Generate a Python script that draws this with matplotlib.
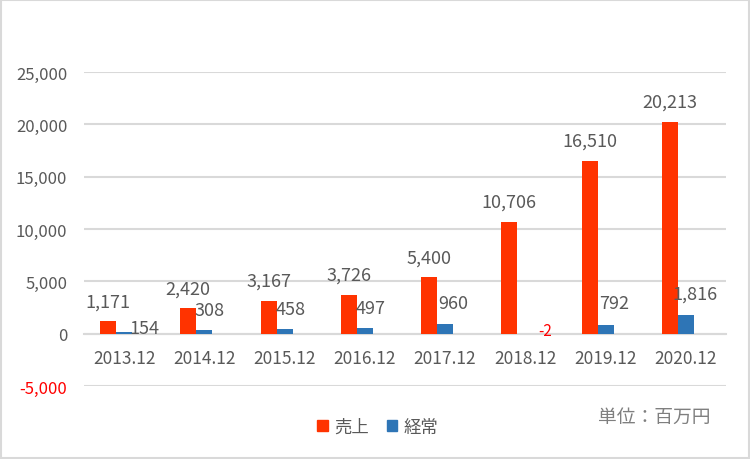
import numpy as np
import matplotlib.pyplot as plt
from matplotlib.patches import Rectangle, Patch

years = ["2013.12", "2014.12", "2015.12", "2016.12", "2017.12", "2018.12", "2019.12", "2020.12"]
sales = [1171, 2420, 3167, 3726, 5400, 10706, 16510, 20213]
ordinary = [154, 308, 458, 497, 960, -2, 792, 1816]
yticks = [-5000, 0, 5000, 10000, 15000, 20000, 25000]

RED = "#FF3300"
BLUE = "#2E75B6"
TXT = "#595959"
GRID = "#D9D9D9"

plt.rcParams['font.family'] = ['Noto Sans CJK JP', 'DejaVu Sans']

fig = plt.figure(figsize=(7.5, 4.6), dpi=100)
ax = fig.add_axes([0.112, 0.1587, 0.856, 0.6826])

x = np.arange(len(years))
w = 0.2
ax.bar(x - w, sales, w, color=RED, label="売上", zorder=3)
ax.bar(x, ordinary, w, color=BLUE, label="経常", zorder=3)

ax.set_xlim(-0.5, len(years) - 0.5)
ax.set_ylim(-5000, 25000)
ax.set_yticks(yticks)
ax.set_yticklabels([f"{v:,}" for v in yticks], fontsize=12, color=TXT)
ax.get_yticklabels()[0].set_color("#FF0000")
ax.grid(axis="y", color=GRID, linewidth=1.5, zorder=0)
ax.tick_params(axis="y", length=0, pad=12)

ax.spines['bottom'].set_position(('data', 0))
for s in ["top", "right", "left"]:
    ax.spines[s].set_visible(False)
ax.spines['bottom'].set_color(GRID)
ax.spines['bottom'].set_linewidth(1.5)
ax.set_xticks(x)
ax.set_xticklabels(years, fontsize=12.5, color=TXT)
ax.tick_params(axis="x", length=0, pad=11)

# data labels
for i, v in enumerate(sales):
    ax.annotate(f"{v:,}", (x[i] - w, v), xytext=(0, 20), textcoords="offset pixels",
                ha="center", va="center", fontsize=13, color=TXT)

blue_offsets = [(20, 4), (5, 20), (6, 20), (6, 20), (8, 21), (20, 3), (8, 22), (9, 21)]
for i, v in enumerate(ordinary):
    dx, dy = blue_offsets[i]
    if v < 0:
        ax.annotate(f"{v:,}", (x[i], 0), xytext=(dx, dy), textcoords="offset pixels",
                    ha="center", va="center", fontsize=11, color="#FF0000")
    else:
        ax.annotate(f"{v:,}", (x[i], v), xytext=(dx, dy), textcoords="offset pixels",
                    ha="center", va="center", fontsize=13, color=TXT)

handles = [Patch(color=RED, label="売上"), Patch(color=BLUE, label="経常")]
fig.legend(handles=handles, loc="center", bbox_to_anchor=(378 / 750, 1 - 428 / 460),
           ncol=2, frameon=False, fontsize=12.5, handlelength=0.6, handleheight=0.6,
           handletextpad=0.4, columnspacing=1.0, labelcolor=TXT)

fig.text(654 / 750, 1 - 417 / 460, "単位：百万円", ha="center", va="center",
         fontsize=13.5, color="#7F7F7F")

fig.patches.append(Rectangle((0.001, 0.002), 0.997, 0.996, transform=fig.transFigure,
                             fill=False, edgecolor=GRID, linewidth=1.5))

fig.savefig("out.png", dpi=100)
